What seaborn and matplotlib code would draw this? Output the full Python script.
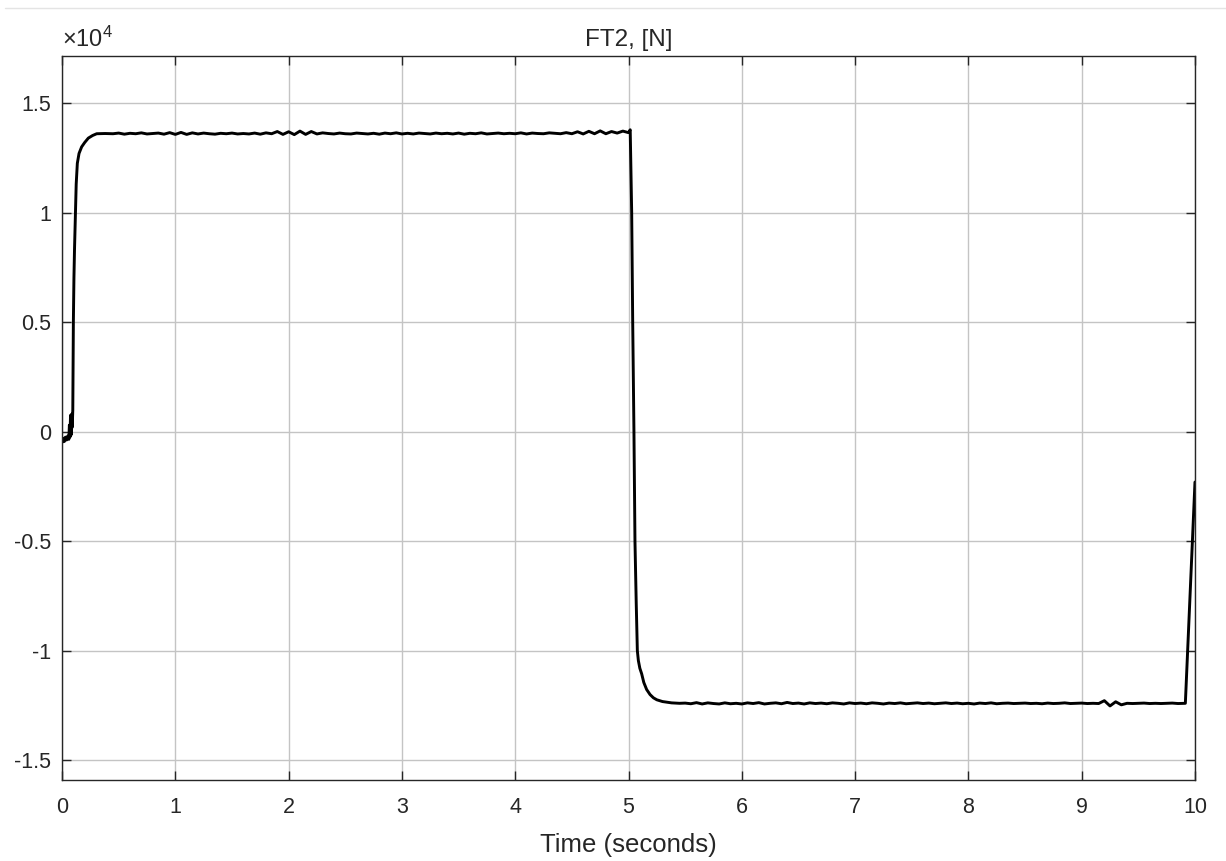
import numpy as np
import pandas as pd
import matplotlib
matplotlib.use("Agg")
import matplotlib.pyplot as plt
from matplotlib.lines import Line2D
from matplotlib.ticker import FuncFormatter
import seaborn as sns

# ---------------- data (force in N) ----------------
t_start = [0.00, 0.01, 0.02, 0.03, 0.04, 0.05, 0.06, 0.065, 0.07, 0.075, 0.08, 0.085,
           0.09, 0.095, 0.10, 0.105, 0.11, 0.118, 0.125, 0.135, 0.15, 0.173, 0.20,
           0.232, 0.27, 0.306, 0.38]
v_start = [-500, -300, -450, -250, -380, -200, -350, 300, -250, 750, -150, 800,
           200, 1000, 5000, 7000, 8300, 10000, 11300, 12250, 12700, 13000, 13200,
           13400, 13520, 13600, 13610]

t_plat1_start, t_plat1_step = 0.45, 0.05
v_plat1 = [
    13600, 13630, 13580, 13620, 13600, 13640, 13590, 13610, 13630, 13580,
    13650, 13570, 13660, 13570, 13640, 13590, 13630, 13600, 13580, 13620,
    13600, 13630, 13590, 13610, 13590, 13630, 13580, 13640, 13600, 13700,
    13570, 13690, 13560, 13720, 13570, 13700, 13590, 13640, 13610, 13590,
    13630, 13600, 13590, 13630, 13610, 13590, 13620, 13580, 13630, 13600,
    13640, 13590, 13620, 13590, 13630, 13610, 13590, 13630, 13600, 13620,
    13590, 13630, 13580, 13620, 13600, 13640, 13590, 13610, 13630, 13600,
    13620, 13600, 13640, 13590, 13630, 13610, 13600, 13640, 13620, 13600,
    13650, 13600, 13690, 13590, 13710, 13600, 13730, 13600, 13700, 13630,
    13720,
]

t_drop = [5.00, 5.015, 5.028, 5.037, 5.048, 5.057, 5.068, 5.078, 5.087, 5.10,
          5.116, 5.135, 5.16, 5.19, 5.22, 5.25, 5.30, 5.38, 5.45]
v_drop = [13650, 13780, 10000, 5000, 0, -5000, -7800, -10000, -10450, -10800,
          -11050, -11450, -11770, -12000, -12150, -12240, -12320, -12380, -12400]

t_plat2_start, t_plat2_step = 5.50, 0.05
v_plat2 = [
    -12390, -12420, -12370, -12430, -12380, -12410, -12430, -12380, -12420, -12400,
    -12430, -12380, -12410, -12370, -12430, -12400, -12380, -12420, -12360, -12410,
    -12390, -12430, -12380, -12410, -12390, -12420, -12380, -12400, -12430, -12380,
    -12410, -12390, -12420, -12380, -12400, -12430, -12390, -12410, -12380, -12420,
    -12400, -12380, -12410, -12390, -12420, -12400, -12380, -12410, -12390, -12420,
    -12400, -12430, -12390, -12410, -12380, -12420, -12400, -12390, -12410, -12400,
    -12390, -12410, -12400, -12420, -12390, -12410, -12400, -12380, -12410, -12400,
    -12390, -12410, -12400, -12410, -12280, -12520, -12330, -12470, -12400, -12410,
    -12400, -12390, -12410, -12400, -12410, -12400, -12390, -12410, -12400,
]

t_end = [9.915, 10.0]
v_end = [-12400, -2300]

x_ticks = [0, 1, 2, 3, 4, 5, 6, 7, 8, 9, 10]
y_ticks = [-15000, -10000, -5000, 0, 5000, 10000, 15000]
title_text = "FT2, [N]"
xlabel_text = "Time (seconds)"
offset_text = r"$\times$10$^{4}$"

# ---------------- assemble ----------------
t_p1 = t_plat1_start + t_plat1_step * np.arange(len(v_plat1))
t_p2 = t_plat2_start + t_plat2_step * np.arange(len(v_plat2))
t_all = np.concatenate([t_start, t_p1, t_drop, t_p2, t_end])
v_all = np.concatenate([v_start, v_plat1, v_drop, v_plat2, v_end])
df = pd.DataFrame({"t": t_all, "FT2": v_all})

# ---------------- style ----------------
sns.set_style("white")
plt.rcParams["font.family"] = ["Liberation Sans", "DejaVu Sans"]
plt.rcParams["mathtext.fontset"] = "custom"
plt.rcParams["mathtext.rm"] = "Liberation Sans"
plt.rcParams["mathtext.it"] = "Liberation Sans"

txt_col = "#262626"
fig = plt.figure(figsize=(12.26, 8.61), dpi=100)
ax = fig.add_axes([0.0506, 0.0941, 0.9241, 0.8409])

sns.lineplot(data=df, x="t", y="FT2", sort=False, estimator=None,
             color="black", linewidth=2.1, ax=ax)

ax.set_xlim(0, 10)
ax.set_ylim(-15900, 17150)
ax.set_xticks(x_ticks)
ax.set_yticks(y_ticks)
ax.xaxis.set_major_formatter(FuncFormatter(lambda v, p: "%g" % v))
ax.yaxis.set_major_formatter(FuncFormatter(lambda v, p: "%g" % (v / 1e4)))

ax.grid(True, color="#c4c4c4", linewidth=1.0)
ax.set_axisbelow(True)
for s in ax.spines.values():
    s.set_color(txt_col)
    s.set_linewidth(1.0)
    s.set_visible(True)

ax.tick_params(axis="both", which="both", direction="in", length=6.5, width=1.0,
               color=txt_col, labelcolor=txt_col, labelsize=15.5,
               top=True, right=True, bottom=True, left=True)
ax.tick_params(axis="x", pad=12)
ax.tick_params(axis="y", pad=8)

ax.set_title(title_text, fontsize=17.5, color=txt_col, pad=7)
ax.set_xlabel(xlabel_text, fontsize=18.5, color=txt_col, labelpad=11)
ax.set_ylabel("")

ax.text(0.0, 1.005, offset_text, transform=ax.transAxes, ha="left", va="bottom",
        fontsize=17, color=txt_col)

# faint top border line of the screenshot
fig.add_artist(Line2D([0.004, 1.0], [0.9907, 0.9907], transform=fig.transFigure,
                      color="#e4e4e4", linewidth=1.0))

fig.savefig("out.png", dpi=100, facecolor="white")
